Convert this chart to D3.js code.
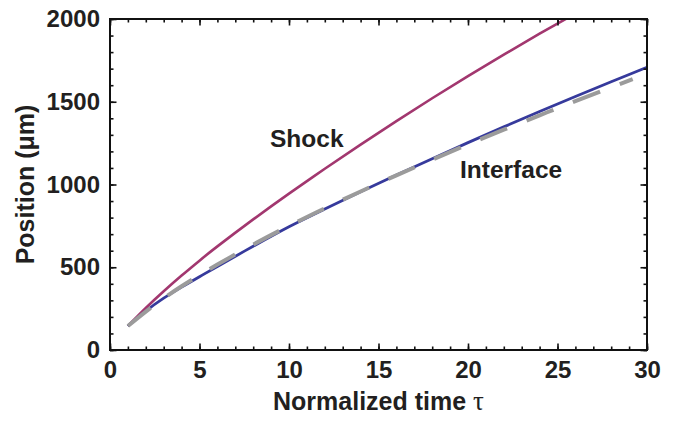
<!DOCTYPE html>
<html>
<head>
<meta charset="utf-8">
<script src="https://cdn.jsdelivr.net/npm/d3@7"></script>
<style>
  html, body { margin: 0; padding: 0; background: #fff; }
  svg { display: block; }
  text { font-family: "Liberation Sans", Arial, Helvetica, sans-serif; font-weight: bold; fill: #221f20; }
</style>
</head>
<body>
<svg id="chart" width="683" height="421"></svg>
<script>
// Normalized time samples (tau) and positions in micrometres
const shockTau = [1, 2, 3, 4, 5, 6, 8, 10, 12, 14, 16, 18, 20, 22, 24, 26];
const shockPos = [145, 254, 355, 450, 540, 626, 789, 945, 1095, 1241, 1383, 1521, 1655, 1785, 1911, 2033];

const interfaceTau = [1, 2, 3, 4, 5, 6, 8, 10, 12, 14, 16, 18, 20, 22, 24, 26, 28, 30];
const interfacePos = [145, 235, 313, 380, 443, 505, 627, 745, 852, 956, 1057, 1156, 1253, 1348, 1441, 1532, 1621, 1708];

const fitTau = [1, 2, 3, 4, 5, 6, 8, 10, 12, 14, 16, 18, 20, 22, 24, 26, 28, 29.2];
const fitPos = [145, 232, 312, 385, 452, 516, 637, 750, 856, 958, 1055, 1150, 1242, 1331, 1418, 1504, 1587, 1636];

const xMajorTicks = [0, 5, 10, 15, 20, 25, 30];
const yMajorTicks = [0, 500, 1000, 1500, 2000];
const xMinorTicks = d3.range(0, 31, 1);
const yMinorTicks = d3.range(0, 2001, 100);

const svg = d3.select("#chart");
const plotLeft = 110, plotRight = 647, plotTop = 19, plotBottom = 350;

const x = d3.scaleLinear().domain([0, 30]).range([plotLeft, plotRight]);
const y = d3.scaleLinear().domain([0, 2000]).range([plotBottom, plotTop]);

// clip curves to the plotting frame
svg.append("defs").append("clipPath").attr("id", "plotArea")
  .append("rect").attr("x", plotLeft).attr("y", plotTop)
  .attr("width", plotRight - plotLeft).attr("height", plotBottom - plotTop);

const line = d3.line()
  .x(d => x(d[0]))
  .y(d => y(d[1]))
  .curve(d3.curveNatural);

const curves = svg.append("g").attr("clip-path", "url(#plotArea)");

curves.append("path")
  .datum(d3.zip(shockTau, shockPos))
  .attr("d", line)
  .attr("fill", "none")
  .attr("stroke", "#a2376f")
  .attr("stroke-width", 2.6);

curves.append("path")
  .datum(d3.zip(interfaceTau, interfacePos))
  .attr("d", line)
  .attr("fill", "none")
  .attr("stroke", "#363a9c")
  .attr("stroke-width", 2.8);

curves.append("path")
  .datum(d3.zip(fitTau, fitPos))
  .attr("d", line)
  .attr("fill", "none")
  .attr("stroke", "#9b9b9b")
  .attr("stroke-width", 4)
  .attr("stroke-dasharray", "29,21");

// axes: ticks point inward on all four sides
function styleAxis(g) {
  g.select(".domain").remove();
  g.selectAll(".tick line").attr("stroke", "#111").attr("stroke-width", 1.6);
  g.selectAll(".tick text").attr("font-size", 24).attr("font-family", null).attr("fill", "#221f20");
}

svg.append("g").attr("transform", `translate(0,${plotBottom})`)
  .call(d3.axisBottom(x).tickValues(xMinorTicks).tickSizeInner(-3.5).tickSizeOuter(0).tickFormat(""))
  .call(styleAxis);
svg.append("g").attr("transform", `translate(0,${plotBottom})`)
  .call(d3.axisBottom(x).tickValues(xMajorTicks).tickSizeInner(-6.5).tickSizeOuter(0).tickPadding(11).tickFormat(d3.format("d")))
  .call(styleAxis);

svg.append("g").attr("transform", `translate(0,${plotTop})`)
  .call(d3.axisTop(x).tickValues(xMinorTicks).tickSizeInner(-3.5).tickSizeOuter(0).tickFormat(""))
  .call(styleAxis);
svg.append("g").attr("transform", `translate(0,${plotTop})`)
  .call(d3.axisTop(x).tickValues(xMajorTicks).tickSizeInner(-6.5).tickSizeOuter(0).tickFormat(""))
  .call(styleAxis);

svg.append("g").attr("transform", `translate(${plotLeft},0)`)
  .call(d3.axisLeft(y).tickValues(yMinorTicks).tickSizeInner(-3.5).tickSizeOuter(0).tickFormat(""))
  .call(styleAxis);
svg.append("g").attr("transform", `translate(${plotLeft},0)`)
  .call(d3.axisLeft(y).tickValues(yMajorTicks).tickSizeInner(-6.5).tickSizeOuter(0).tickPadding(10).tickFormat(d3.format("d")))
  .call(styleAxis);

svg.append("g").attr("transform", `translate(${plotRight},0)`)
  .call(d3.axisRight(y).tickValues(yMinorTicks).tickSizeInner(-3.5).tickSizeOuter(0).tickFormat(""))
  .call(styleAxis);
svg.append("g").attr("transform", `translate(${plotRight},0)`)
  .call(d3.axisRight(y).tickValues(yMajorTicks).tickSizeInner(-6.5).tickSizeOuter(0).tickFormat(""))
  .call(styleAxis);

// frame
svg.append("rect")
  .attr("x", plotLeft).attr("y", plotTop)
  .attr("width", plotRight - plotLeft).attr("height", plotBottom - plotTop)
  .attr("fill", "none").attr("stroke", "#111").attr("stroke-width", 2);

// axis titles
const xTitle = svg.append("text")
  .attr("x", (plotLeft + plotRight) / 2).attr("y", 410)
  .attr("text-anchor", "middle").attr("font-size", 25);
xTitle.append("tspan").text("Normalized time ");
xTitle.append("tspan")
  .attr("font-family", "'Liberation Serif', 'Times New Roman', serif")
  .attr("font-weight", "normal")
  .attr("font-size", 27)
  .text("τ");

svg.append("text")
  .attr("transform", `translate(34,${(plotTop + plotBottom) / 2}) rotate(-90)`)
  .attr("text-anchor", "middle").attr("font-size", 25)
  .text("Position (μm)");

// curve labels
svg.append("text")
  .attr("x", 270).attr("y", 146.5).attr("font-size", 24.5)
  .text("Shock");
svg.append("text")
  .attr("x", 460).attr("y", 178).attr("font-size", 24.5)
  .text("Interface");
</script>
</body>
</html>
